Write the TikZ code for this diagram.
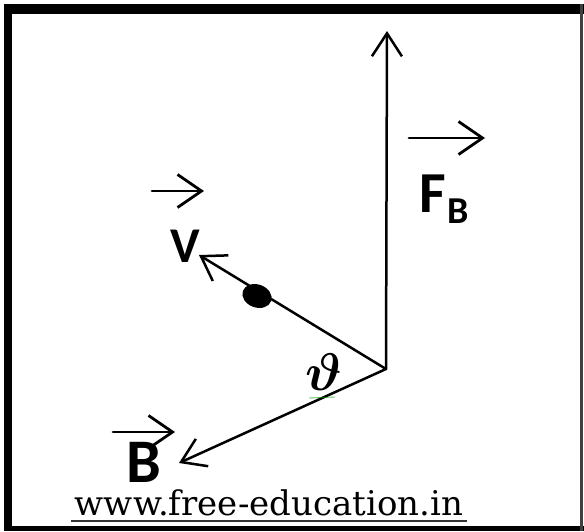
\documentclass[tikz,border=0pt]{standalone}
\usepackage{fontspec}
\setmainfont{DejaVu Serif}
\newfontfamily\lblfont{Carlito}
\usetikzlibrary{arrows.meta,shapes.geometric}
\begin{document}
\begin{tikzpicture}[x=1pt,y=-1pt,
  mainline/.style={line width=2.5pt, line cap=round,
    -{Straight Barb[length=23pt,width=30pt,line width=2.5pt]}},
  vecsign/.style={line width=2.8pt, line cap=round,
    -{Straight Barb[length=24pt,width=33pt,line width=2.8pt]}},
  lbl/.style={inner sep=0pt, anchor=base, font=\lblfont\bfseries},
]
\useasboundingbox (0,0) rectangle (584,531);
% frame
\fill[black] (4,4) rectangle (584,14);
\fill[black] (4,4) rectangle (12,531);
\fill[black] (4,526) rectangle (584,531);
\fill[black!75] (580,4) rectangle (583,531);

% vectors
\coordinate (O) at (386,369);
\coordinate (Ftip) at (387,31);
\coordinate (Vtip) at (199,255);
\coordinate (Btip) at (179,463);
\draw[mainline] (O) -- (Ftip);
\draw[mainline] (O) -- (Vtip);
\draw[mainline] (O) -- (Btip);

% charge
\node[fill=black, ellipse, minimum width=30pt, minimum height=23pt, inner sep=0pt, rotate=-20] (q) at (257,296) {};

% labels
\node[lbl, font=\lblfont\bfseries\fontsize{50}{50}\selectfont] (vl) at (185,262) {V};
\coordinate (vs1) at (152,191);
\coordinate (vs2) at (204,191);
\draw[vecsign] (vs1) -- (vs2);

\node[lbl, font=\lblfont\bfseries\fontsize{58}{58}\selectfont] (fl) at (433,212) {F};
\node[lbl, font=\lblfont\bfseries\fontsize{38}{38}\selectfont] (fsub) at (458,223) {B};
\coordinate (fs1) at (409,138);
\coordinate (fs2) at (485,138);
\draw[vecsign] (fs1) -- (fs2);

\node[lbl, font=\lblfont\bfseries\fontsize{62}{62}\selectfont] (bl) at (144,482) {B};
\coordinate (bs1) at (113,432);
\coordinate (bs2) at (175,432);
\draw[vecsign] (bs1) -- (bs2);

\node[inner sep=0pt, anchor=base] (th) at (324,390) {\scalebox{5.3}{\boldmath$\vartheta$}};
\coordinate (g1) at (309,398);
\coordinate (g2) at (335,397);
\draw[green!60!black, opacity=0.6, line width=0.9pt] (g1) -- (g2);

% website
\node[inner sep=0pt, anchor=base, font=\fontsize{34}{34}\selectfont] (web) at (269,515) {www.free-education.in};
\coordinate (u1) at (71,521);
\coordinate (u2) at (467,521);
\draw[line width=2pt, black!80] (u1) -- (u2);
\end{tikzpicture}
\end{document}
